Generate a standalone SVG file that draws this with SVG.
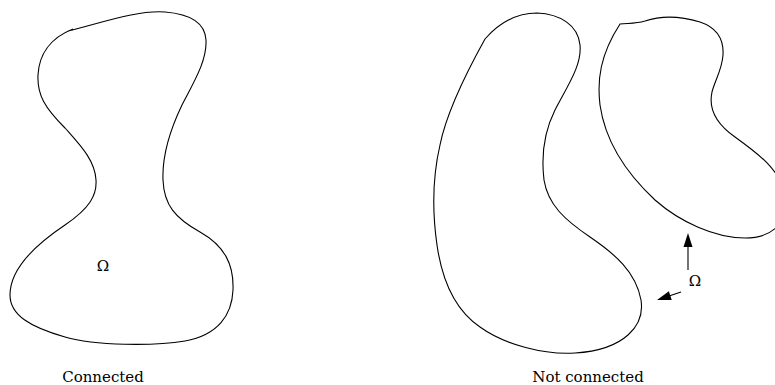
<svg xmlns="http://www.w3.org/2000/svg" width="775" height="385" viewBox="0 0 775 385">
<style>
.shape{fill:none;stroke:#000;stroke-width:1.1;stroke-linejoin:round}
.lbl{font-family:"DejaVu Serif","Liberation Serif",serif;font-size:15px;fill:#000;text-anchor:middle}
.ar{stroke:#000;stroke-width:1.1;fill:none}
.ah{fill:#000;stroke:none}
</style>
<rect width="775" height="385" fill="#fff"/>
<g id="connected-region">
<path class="shape" d="M68,31 C95,25 135,10 165,12 C190,14 205,22 206,40 C207,60 195,80 182,105 C170,130 162,155 163,180 C164,205 175,218 200,232 C225,246 234,265 233,290 C232,315 218,335 185,341 C155,346 95,346 65,337 C30,327 10,315 10,295 C10,270 35,245 65,225 C90,208 97,195 96,180 C95,160 80,145 65,128 C45,108 37,95 38,75 C39,55 50,38 73,29"/>
<text class="lbl" x="103" y="271">Ω</text>
</g>
<g id="region-left">
<path class="shape" d="M485,39 C500,22 518,13 537,13 C560,14 578,25 580,45 C582,65 568,85 555,110 C545,130 541,155 544,180 C548,205 565,220 590,237 C615,254 636,272 641,300 C645,325 625,350 575,353 C545,355 505,345 480,327 C455,310 442,280 437,245 C432,210 433,175 440,145 C446,115 465,75 485,39 Z"/>
</g>
<g id="region-right">
<path class="shape" d="M620,24 C628,23 635,24 645,21 C660,16 680,16 700,22 C715,27 724,38 723,55 C722,70 715,80 712,92 C708,110 718,125 735,137 C760,155 780,170 785,195 C789,220 775,238 745,238 C715,238 680,222 655,200 C625,172 605,140 600,105 C597,80 600,55 620,24 Z"/>
</g>
<g id="omega-label">
<text class="lbl" x="695" y="286">Ω</text>
</g>
<g id="connectors">
<line class="ar" x1="688" y1="270" x2="688" y2="246"/>
<polygon class="ah" points="688,233 683.5,247 692.5,247"/>
<line class="ar" x1="681" y1="292" x2="669" y2="296"/>
<polygon class="ah" points="657,300 671.7,299.9 668.9,291.3"/>
</g>
<g id="captions">
<text class="lbl" x="103" y="382">Connected</text>
<text class="lbl" x="588" y="382">Not connected</text>
</g>
</svg>
